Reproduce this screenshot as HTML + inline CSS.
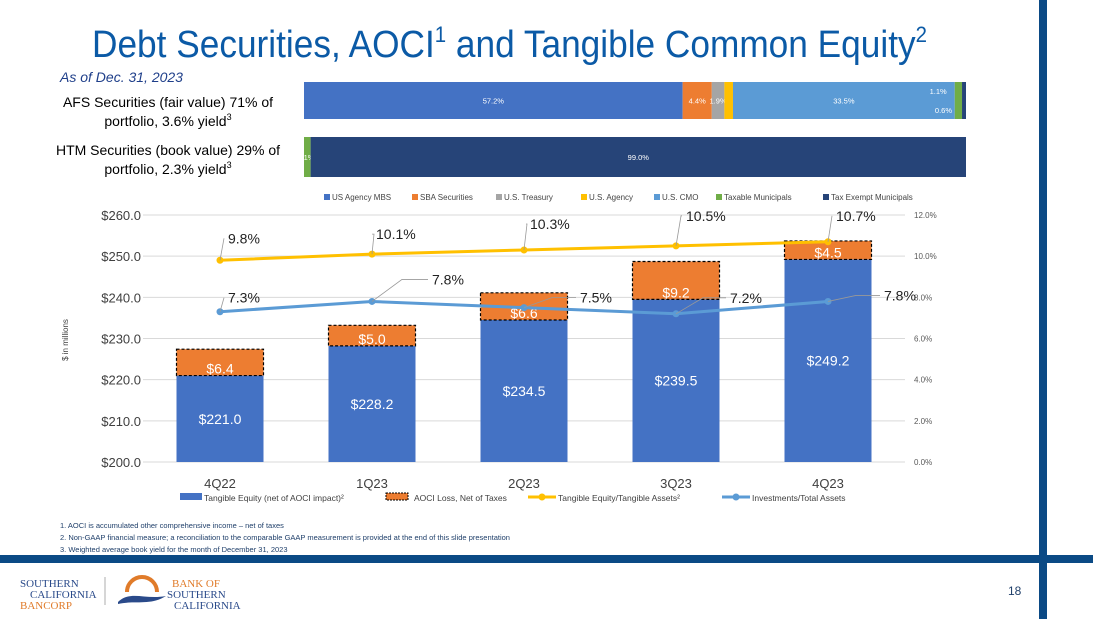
<!DOCTYPE html>
<html><head><meta charset="utf-8"><style>
body{margin:0;background:#fff;}
svg{display:block;font-family:"Liberation Sans",sans-serif;}
</style></head><body>
<svg id="s" width="1093" height="619" viewBox="0 0 1093 619">
<rect x="1039" y="0" width="8" height="619" fill="#0b4a85"/>
<rect x="0" y="555" width="1093" height="8" fill="#0b4a85"/>
<text x="92" y="57" font-size="38" fill="#0b5aa6" textLength="835" lengthAdjust="spacingAndGlyphs">Debt Securities, AOCI<tspan font-size="22" dy="-15">1</tspan><tspan dy="15"> and Tangible Common Equity</tspan><tspan font-size="22" dy="-15">2</tspan></text>
<text x="60" y="82" font-size="14" font-style="italic" fill="#1f3f8a">As of Dec. 31, 2023</text>
<text x="168" y="107" font-size="14" text-anchor="middle" fill="#000">AFS Securities (fair value) 71% of</text>
<text x="168" y="126" font-size="14" text-anchor="middle" fill="#000">portfolio, 3.6% yield<tspan font-size="9" dy="-6">3</tspan></text>
<text x="168" y="155" font-size="14" text-anchor="middle" fill="#000">HTM Securities (book value) 29% of</text>
<text x="168" y="174" font-size="14" text-anchor="middle" fill="#000">portfolio, 2.3% yield<tspan font-size="9" dy="-6">3</tspan></text>
<g id="topchart"></g>
<g id="main"></g>
<g font-size="7.5" fill="#1f3f6a">
<text x="60" y="528">1. AOCI is accumulated other comprehensive income – net of taxes</text>
<text x="60" y="540">2.  Non-GAAP financial measure; a reconciliation to the comparable GAAP measurement is provided at the end of this slide presentation</text>
<text x="60" y="552">3.  Weighted average book yield for the month of December 31, 2023</text>
</g>
<g font-family="Liberation Serif,serif" font-size="11">
<text x="20" y="587" fill="#2a4a8a">SOUTHERN</text>
<text x="30" y="598" fill="#2a4a8a">CALIFORNIA</text>
<text x="20" y="609" fill="#e07b2a">BANCORP</text>
</g>
<line x1="105" y1="577" x2="105" y2="605" stroke="#999" stroke-width="0.8"/>
<g>
<path d="M127 592 A15 15 0 0 1 157 592" fill="none" stroke="#e07b2a" stroke-width="4"/>
<path d="M118 602 C130 590 145 600 166 596 C150 606 135 600 118 604Z" fill="#2a4a8a"/>
<g font-family="Liberation Serif,serif" font-size="11">
<text x="172" y="587" fill="#e07b2a">BANK OF</text>
<text x="167" y="598" fill="#2a4a8a">SOUTHERN</text>
<text x="174" y="609" fill="#2a4a8a">CALIFORNIA</text></g>
</g>
<text x="1008" y="595" font-size="12" fill="#1f3f6a">18</text>
</svg>
<script>
const NS="http://www.w3.org/2000/svg";
function mk(p,t,a,txt){const e=document.createElementNS(NS,t);for(const k in a)e.setAttribute(k,a[k]);if(txt!=null)e.textContent=txt;p.appendChild(e);return e;}
// ---- top portfolio bars
const segNames=["US Agency MBS","SBA Securities","U.S. Treasury","U.S. Agency","U.S. CMO","Taxable Municipals","Tax Exempt Municipals"];
const segColors=["#4472c4","#ed7d31","#a5a5a5","#ffc000","#5b9bd5","#70ad47","#264478"];
const afsValues=[57.2,4.4,1.9,1.3,33.5,1.1,0.6];
const htmValues=[0,0,0,0,0,1.0,99.0];
const tg=document.getElementById('topchart');
function hbar(vals,y,h,name){
  const x0=304,w=662;const tot=vals.reduce((a,b)=>a+b,0);let x=x0;
  vals.forEach((v,i)=>{if(!v)return;const ww=v/tot*w;
    const r=mk(tg,'rect',{x:x,y:y,width:ww,height:h,fill:segColors[i]});
    
    
    let lx=x+ww/2,ly=y+h/2+3,t=v.toFixed(1)+'%';
    if(v<1.5&&name=='afs'){ if(i==3){lx=x+ww+30;ly=y+h-8;} else if(i==5){lx=x-8;ly=y+12;} else {lx=x-10;ly=y+h-6;} }
    if(name=='htm'&&v<2){lx=x+5;t='1%';}
    const tx=mk(tg,'text',{x:lx,y:ly,'font-size':7.5,fill:'#fff','text-anchor':(v<1.5&&name=='afs'&&i!=3)?'end':'middle'},t);
    
    
    x+=ww;});
}
hbar(afsValues,82,37,'afs');hbar(htmValues,137,40,'htm');
const legX=[324,412,496,581,654,716,823];
segNames.forEach((n,i)=>{const lx=legX[i];mk(tg,'rect',{x:lx,y:194,width:6,height:6,fill:segColors[i]});
  const t=mk(tg,'text',{x:lx+8,y:200,'font-size':8,fill:'#444'},n);
  
  });
// ---- main chart
const quarters=["4Q22","1Q23","2Q23","3Q23","4Q23"];
const tangibleEquity=[221.0,228.2,234.5,239.5,249.2];
const aociLoss=[6.4,5.0,6.6,9.2,4.5];
const teRatio=[9.8,10.1,10.3,10.5,10.7];
const invRatio=[7.3,7.8,7.5,7.2,7.8];
const leftTicks=[200,210,220,230,240,250,260];
const rightTicks=[0,2,4,6,8,10,12];
const g=document.getElementById('main');
const yL=v=>462-(v-200)*247/60, yR=v=>462-v*247/12, xC=i=>220+i*152;
leftTicks.forEach(v=>{mk(g,'line',{x1:143,x2:905,y1:yL(v),y2:yL(v),stroke:'#d9d9d9'});
  const t=mk(g,'text',{x:141,y:yL(v)+5,'font-size':13,'text-anchor':'end',fill:'#404040'},'$'+v.toFixed(1));
  });
rightTicks.forEach(v=>{const t=mk(g,'text',{x:914,y:yR(v)+3,'font-size':8,fill:'#595959'},v.toFixed(1)+'%');
  });
const yt=mk(g,'text',{x:0,y:0,'font-size':8,fill:'#404040','text-anchor':'middle',transform:'translate(68,340) rotate(-90)'},'$ in millions');

quarters.forEach((q,i)=>{const x=xC(i),bw=87;
  const b=mk(g,'rect',{x:x-bw/2,y:yL(tangibleEquity[i]),width:bw,height:462-yL(tangibleEquity[i]),fill:'#4472c4'});
  
  const top2=tangibleEquity[i]+aociLoss[i];
  const a=mk(g,'rect',{x:x-bw/2,y:yL(top2),width:bw,height:yL(tangibleEquity[i])-yL(top2),fill:'#ed7d31',stroke:'#000','stroke-dasharray':'3,2','stroke-width':1.2});
  
  mk(g,'text',{x:x,y:(yL(tangibleEquity[i])+462)/2+5,'font-size':14,fill:'#fff','text-anchor':'middle'},'$'+tangibleEquity[i].toFixed(1));
  mk(g,'text',{x:x,y:yL(tangibleEquity[i])-2,'font-size':14,fill:'#fff','text-anchor':'middle'},'$'+aociLoss[i].toFixed(1));
  const xt=mk(g,'text',{x:x,y:488,'font-size':13,fill:'#404040','text-anchor':'middle'},q);
  });
function line(vals,col,name,lab){
  const pts=vals.map((v,i)=>xC(i)+','+yR(v)).join(' ');
  const l=mk(g,'polyline',{points:pts,fill:'none',stroke:col,'stroke-width':3});
  
  vals.forEach((v,i)=>{mk(g,'circle',{cx:xC(i),cy:yR(v),r:3.5,fill:col});
    const [dx,dy]=lab[i];
    mk(g,'polyline',{points:`${xC(i)},${yR(v)} ${xC(i)+dx*0.5},${yR(v)+dy} ${xC(i)+dx-4},${yR(v)+dy}`,fill:'none',stroke:'#999','stroke-width':0.8});
    mk(g,'text',{x:xC(i)+dx,y:yR(v)+dy+5,'font-size':14,fill:'#222'},v.toFixed(1)+'%');});
}
line(teRatio,'#ffc000','line-tangible-ratio',[[8,-22],[4,-20],[6,-26],[10,-30],[8,-26]]);
line(invRatio,'#5b9bd5','line-investments-ratio',[[8,-14],[60,-22],[56,-10],[54,-16],[56,-6]]);
// legend
const lg=[["Tangible Equity (net of AOCI impact)²",'bar'],["AOCI Loss, Net of Taxes",'aoci'],["Tangible Equity/Tangible Assets²",'y'],["Investments/Total Assets",'b']];
const lxs=[180,384,528,722];
lg.forEach((e,i)=>{const x=lxs[i],y=497;
  if(e[1]=='bar')mk(g,'rect',{x:x,y:y-4,width:22,height:7,fill:'#4472c4'});
  else if(e[1]=='aoci')mk(g,'rect',{x:x+2,y:y-4,width:22,height:7,fill:'#ed7d31',stroke:'#000','stroke-dasharray':'2,1'});
  else{const c=e[1]=='y'?'#ffc000':'#5b9bd5';mk(g,'line',{x1:x,x2:x+28,y1:y,y2:y,stroke:c,'stroke-width':3});mk(g,'circle',{cx:x+14,cy:y,r:3.5,fill:c});}
  const t=mk(g,'text',{x:x+(e[1]=='bar'?24:30),y:y+4,'font-size':8.5,fill:'#404040'},e[0]);
  });
</script>
</body></html>
